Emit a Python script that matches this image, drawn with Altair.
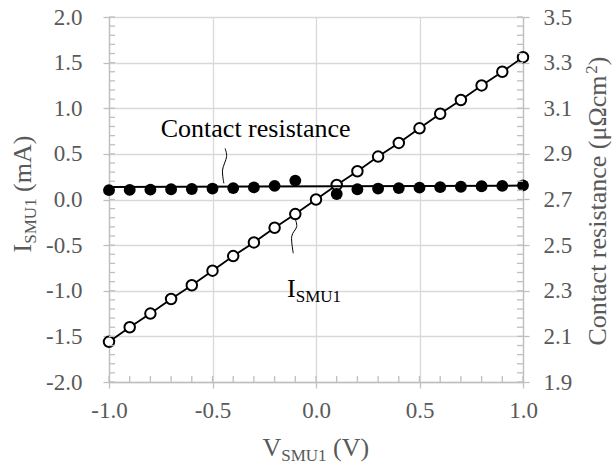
import altair as alt
import pandas as pd

# ---------------- data ----------------
V_I = [-1.0, -0.9, -0.8, -0.7, -0.6, -0.5, -0.4, -0.3, -0.2, -0.1, 0.0,
       0.1, 0.2, 0.3, 0.4, 0.5, 0.6, 0.7, 0.8, 0.9, 1.0]
I_mA = [-1.56, -1.40, -1.25, -1.09, -0.94, -0.78, -0.62, -0.47, -0.31, -0.16, 0.00,
        0.16, 0.31, 0.47, 0.62, 0.78, 0.94, 1.09, 1.25, 1.40, 1.56]

V_R = [-1.0, -0.9, -0.8, -0.7, -0.6, -0.5, -0.4, -0.3, -0.2, -0.1,
       0.1, 0.2, 0.3, 0.4, 0.5, 0.6, 0.7, 0.8, 0.9, 1.0]
R_uohm = [2.741, 2.742, 2.743, 2.745, 2.746, 2.748, 2.750, 2.753, 2.760, 2.783,
          2.724, 2.745, 2.748, 2.750, 2.752, 2.754, 2.756, 2.758, 2.760, 2.762]

fit_V = [-1.0, 1.0]
fit_R = [2.755, 2.761]

x_ticks = [-1.0, -0.5, 0.0, 0.5, 1.0]
y_left_ticks = [-2.0, -1.5, -1.0, -0.5, 0.0, 0.5, 1.0, 1.5, 2.0]
y_right_ticks = [1.9, 2.1, 2.3, 2.5, 2.7, 2.9, 3.1, 3.3, 3.5]
x_minor = [round(-1.0 + 0.1 * k, 2) for k in range(21)]
y_left_minor = [round(-2.0 + 0.1 * k, 2) for k in range(41)]
y_right_minor = [round(1.9 + 0.04 * k, 3) for k in range(41)]

# annotation (data units of V and I axes)
cr_text = ["Contact resistance"]
cr_pos_V = [-0.75]
cr_pos_I = [0.684]
cr_leader_V = [-0.4393, -0.432, -0.4514, -0.445]
cr_leader_I = [0.560, 0.468, 0.323, 0.177]

i_text_main = ["I"]
i_text_sub = ["SMU1"]
i_pos_V = [-0.14]
i_pos_I = [-1.067]
i_leader_V = [-0.1016, -0.0934, -0.1176, -0.1098]
i_leader_I = [-0.206, -0.298, -0.407, -0.589]

# ---------------- styling ----------------
W, H = 414, 365
FONT = "Liberation Serif"
GREY = "#595959"
AX = "#bfbfbf"
FS_TICK = 23
FS = 26
FS_SUB = 17
MINUS_FIX = "replace(format(datum.value, '.1f'), '\u2212', '-')"

xscale = alt.Scale(domain=[-1.0, 1.0], nice=False, zero=False)
ylscale = alt.Scale(domain=[-2.0, 2.0], nice=False, zero=False)
yrscale = alt.Scale(domain=[1.9, 3.5], nice=False, zero=False)

xaxis = alt.Axis(values=x_ticks, labelExpr=MINUS_FIX, title=None, grid=True, labelFlush=False,
                 tickSize=6, labelPadding=11, labelFontSize=FS_TICK)
ylaxis = alt.Axis(values=y_left_ticks, labelExpr=MINUS_FIX, title=None, grid=True, labelFlush=False,
                  tickSize=6, labelPadding=21, labelFontSize=FS_TICK, orient="left")
yraxis = alt.Axis(values=y_right_ticks, labelExpr=MINUS_FIX, title=None, grid=False, labelFlush=False,
                  tickSize=6, labelPadding=14, labelFontSize=FS_TICK, orient="right")


def X(f):
    return alt.X(f, type="quantitative", scale=xscale, axis=xaxis)


def YL(f):
    return alt.Y(f, type="quantitative", scale=ylscale, axis=ylaxis)


def YR(f):
    return alt.Y(f, type="quantitative", scale=yrscale, axis=yraxis)


df_I = pd.DataFrame({"V": V_I, "I": I_mA})
df_R = pd.DataFrame({"V": V_R, "R": R_uohm})
df_fit = pd.DataFrame({"V": fit_V, "R": fit_R})

i_line = alt.Chart(df_I).mark_line(color="black", strokeWidth=1.8).encode(x=X("V"), y=YL("I"))
i_pts = alt.Chart(df_I).mark_point(shape="circle", filled=True, fill="white", stroke="black",
                                   strokeWidth=2, size=110, opacity=1).encode(x=X("V"), y=YL("I"))

lminor = alt.Chart(pd.DataFrame({"v": y_left_minor})).mark_rule(color=AX, strokeWidth=1.3).encode(
    y=YL("v"), x=alt.value(0), x2=alt.value(6))
xminor = alt.Chart(pd.DataFrame({"v": x_minor})).mark_rule(color=AX, strokeWidth=1.3).encode(
    x=X("v"), y=alt.value(H - 6), y2=alt.value(H))

cr_lead = alt.Chart(pd.DataFrame({"V": cr_leader_V, "I": cr_leader_I, "k": list(range(4))})).mark_line(
    color="black", strokeWidth=1, interpolate="cardinal").encode(x=X("V"), y=YL("I"), order="k:O")
i_lead = alt.Chart(pd.DataFrame({"V": i_leader_V, "I": i_leader_I, "k": list(range(4))})).mark_line(
    color="black", strokeWidth=1, interpolate="cardinal").encode(x=X("V"), y=YL("I"), order="k:O")

cr_lbl = alt.Chart(pd.DataFrame({"V": cr_pos_V, "I": cr_pos_I, "t": cr_text})).mark_text(
    font=FONT, fontSize=FS, color="black", align="left", baseline="alphabetic").encode(
    x=X("V"), y=YL("I"), text="t:N")
i_lbl = alt.Chart(pd.DataFrame({"V": i_pos_V, "I": i_pos_I, "t": i_text_main})).mark_text(
    font=FONT, fontSize=FS, color="black", align="left", baseline="alphabetic").encode(
    x=X("V"), y=YL("I"), text="t:N")
i_lbl_sub = alt.Chart(pd.DataFrame({"V": i_pos_V, "I": i_pos_I, "t": i_text_sub})).mark_text(
    font=FONT, fontSize=FS_SUB, color="black", align="left", baseline="alphabetic", dx=8.7, dy=5).encode(
    x=X("V"), y=YL("I"), text="t:N")


def txt(s, x, y, size=FS, angle=0):
    kw = dict(font=FONT, fontSize=size, color=GREY, align="left", baseline="alphabetic")
    if angle:
        kw["angle"] = angle
    return alt.Chart(pd.DataFrame({"t": [s]})).mark_text(**kw).encode(
        text="t:N", x=alt.value(x), y=alt.value(y))


# axis titles
xt = [txt("V", 153.4, 438.6), txt("SMU1", 172.2, 443.6, FS_SUB), txt("(V)", 224.0, 438.6)]
ylt = [txt("I", -78.4, 235.4, FS, 270), txt("SMU1", -73.4, 226.7, FS_SUB, 270),
       txt("(mA)", -78.4, 174.9, FS, 270)]
yrt = [txt("Contact resistance (\u03bc\u03a9cm", 497.0, 328.5, FS, 270),
       txt("2", 488.0, 56.7, FS_SUB, 270), txt(")", 497.0, 48.2, FS, 270)]

left = alt.layer(i_line, i_pts, lminor, xminor, cr_lead, i_lead, cr_lbl, i_lbl, i_lbl_sub,
                 *xt, *ylt, *yrt)

r_fit = alt.Chart(df_fit).mark_line(color="black", strokeWidth=2).encode(x=X("V"), y=YR("R"))
r_pts = alt.Chart(df_R).mark_point(shape="circle", filled=True, fill="black", stroke="black",
                                   strokeWidth=0, size=140, opacity=1).encode(x=X("V"), y=YR("R"))
rminor = alt.Chart(pd.DataFrame({"v": y_right_minor})).mark_rule(color=AX, strokeWidth=1.3).encode(
    y=YR("v"), x=alt.value(W - 6), x2=alt.value(W))

right = alt.layer(r_fit, r_pts, rminor)

chart = alt.layer(left, right).resolve_scale(y="independent").properties(
    width=W, height=H, autosize="none",
    padding={"left": 109, "top": 17, "right": 614 - 109 - W, "bottom": 469 - 17 - H},
    background="white",
).configure_view(stroke=None).configure_axis(
    labelFont=FONT, labelColor=GREY, domainColor=AX, domainWidth=1.3,
    tickColor=AX, tickWidth=1.3, gridColor="#d9d9d9", gridWidth=1.3,
)

chart.save("out.html", embed_options={"renderer": "svg", "actions": False})
